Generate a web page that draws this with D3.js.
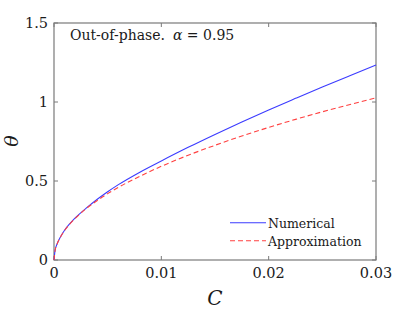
<!DOCTYPE html>
<html>
<head>
<meta charset="utf-8">
<script src="https://cdn.jsdelivr.net/npm/d3@7"></script>
<style>
  body { margin: 0; background: #fff; }
</style>
</head>
<body>
<div id="chart"></div>
<script>
// values
const cValues = [0, 0.0001, 0.0003, 0.0006, 0.001, 0.0015, 0.002, 0.003, 0.004, 0.005,
                 0.006, 0.008, 0.01, 0.0125, 0.015, 0.0175, 0.02, 0.0225, 0.025, 0.0275, 0.03];
const numerical = [0, 0.06, 0.104, 0.146, 0.19, 0.232, 0.268, 0.328, 0.383, 0.432,
                   0.477, 0.556, 0.627, 0.713, 0.795, 0.874, 0.95, 1.023, 1.095, 1.165, 1.234];
const approximation = [0, 0.059, 0.103, 0.145, 0.188, 0.23, 0.265, 0.325, 0.375, 0.42,
                       0.46, 0.53, 0.593, 0.663, 0.726, 0.785, 0.839, 0.89, 0.938, 0.983, 1.027];
const xTicks = [0, 0.01, 0.02, 0.03];
const xTickLabels = ["0", "0.01", "0.02", "0.03"];
const yTicks = [0, 0.5, 1, 1.5];
const yTickLabels = ["0", "0.5", "1", "1.5"];
const seriesNames = ["Numerical", "Approximation"];

const width = 415, height = 312;
const margin = { left: 54, right: 39, top: 23, bottom: 52 };
const serif = "'DejaVu Serif', serif";
const textColor = "#1a1a1a";

const svg = d3.select("#chart").append("svg")
  .attr("width", width).attr("height", height)
  .style("font-family", serif);

const x = d3.scaleLinear().domain([0, 0.03]).range([margin.left, width - margin.right]);
const y = d3.scaleLinear().domain([0, 1.5]).range([height - margin.bottom, margin.top]);

const frameColor = "#7a7a7a";
const tickLen = 4;

// frame
svg.append("rect")
  .attr("x", x(0)).attr("y", y(1.5))
  .attr("width", x(0.03) - x(0)).attr("height", y(0) - y(1.5))
  .attr("fill", "none").attr("stroke", frameColor).attr("stroke-width", 1.2);

// ticks (inside, all four sides)
const ticks = svg.append("g").attr("stroke", frameColor).attr("stroke-width", 1);
xTicks.forEach(t => {
  ticks.append("line").attr("x1", x(t)).attr("x2", x(t)).attr("y1", y(0)).attr("y2", y(0) - tickLen);
  ticks.append("line").attr("x1", x(t)).attr("x2", x(t)).attr("y1", y(1.5)).attr("y2", y(1.5) + tickLen);
});
yTicks.forEach(t => {
  ticks.append("line").attr("x1", x(0)).attr("x2", x(0) + tickLen).attr("y1", y(t)).attr("y2", y(t));
  ticks.append("line").attr("x1", x(0.03)).attr("x2", x(0.03) - tickLen).attr("y1", y(t)).attr("y2", y(t));
});

// tick labels
svg.append("g").selectAll("text")
  .data(xTicks)
  .join("text")
  .attr("x", d => x(d))
  .attr("y", y(0) + 18)
  .attr("text-anchor", "middle")
  .attr("font-size", "14.5px")
  .attr("fill", textColor)
  .text((d, i) => xTickLabels[i]);

svg.append("g").selectAll("text")
  .data(yTicks)
  .join("text")
  .attr("x", x(0) - 6)
  .attr("y", d => y(d) + 5)
  .attr("text-anchor", "end")
  .attr("font-size", "14.5px")
  .attr("fill", textColor)
  .text((d, i) => yTickLabels[i]);

// axis labels
svg.append("text")
  .attr("x", 215).attr("y", 305)
  .attr("text-anchor", "middle")
  .attr("font-size", "20px")
  .attr("font-style", "italic")
  .attr("fill", textColor)
  .text("C");

svg.append("text")
  .attr("transform", "translate(18,141) rotate(-90)")
  .attr("text-anchor", "middle")
  .attr("font-size", "19px")
  .attr("font-style", "italic")
  .attr("fill", textColor)
  .text("θ");

// curves
const line = d3.line()
  .x((d, i) => x(cValues[i]))
  .y(d => y(d))
  .curve(d3.curveMonotoneX);

svg.append("path")
  .datum(numerical)
  .attr("d", line)
  .attr("fill", "none")
  .attr("stroke", "#3b3bff")
  .attr("stroke-width", 1.1);

svg.append("path")
  .datum(approximation)
  .attr("d", line)
  .attr("fill", "none")
  .attr("stroke", "#ff4040")
  .attr("stroke-width", 1.1)
  .attr("stroke-dasharray", "5,3");

// title annotation
const title = svg.append("text")
  .attr("x", 70).attr("y", 40)
  .attr("font-size", "14px")
  .attr("fill", textColor);
title.append("tspan").text("Out-of-phase.");
title.append("tspan").attr("dx", 8).attr("font-style", "italic").text("α");
title.append("tspan").text(" = 0.95");

// legend
const legend = svg.append("g");
const legendColors = ["#3b3bff", "#ff4040"];
const legendDash = [null, "5,3"];
seriesNames.forEach((name, i) => {
  const ly = 222.7 + i * 18;
  legend.append("line")
    .attr("x1", 230).attr("x2", 266).attr("y1", ly).attr("y2", ly)
    .attr("stroke", legendColors[i]).attr("stroke-width", 1.1)
    .attr("stroke-dasharray", legendDash[i]);
  legend.append("text")
    .attr("x", 268).attr("y", ly + 5)
    .attr("font-size", "12.5px")
    .attr("fill", textColor)
    .text(name);
});
</script>
</body>
</html>
